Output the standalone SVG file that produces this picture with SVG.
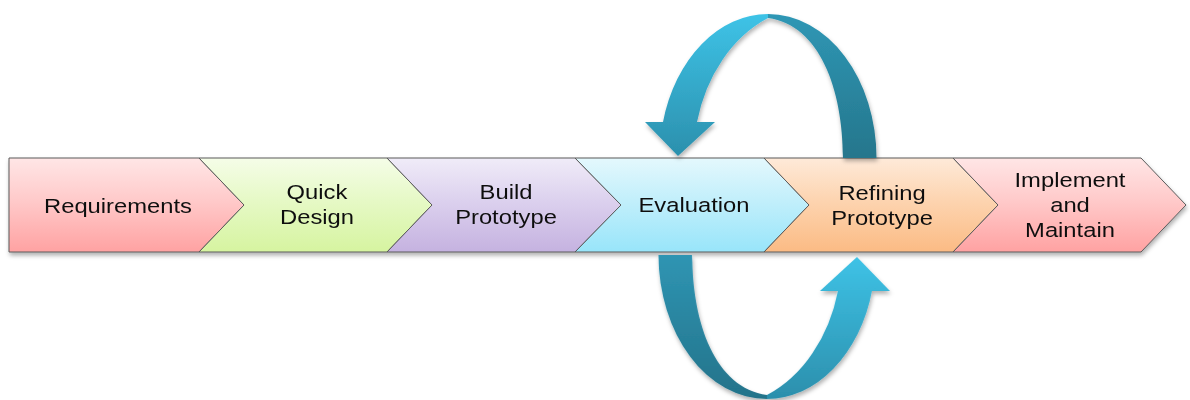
<svg xmlns="http://www.w3.org/2000/svg" width="1190" height="400" viewBox="0 0 1190 400">
  <defs>
    <style>
      .chev { stroke: #5b5b5b; stroke-width: 1; }
      .lbl { font-family: "Liberation Sans", Arial, sans-serif; font-size: 20.5px; fill: #111; text-anchor: middle; }
    </style>
    <linearGradient id="gRed" x1="0" y1="0" x2="0" y2="1">
      <stop offset="0" stop-color="#ffe6e6"/>
      <stop offset="0.45" stop-color="#ffcaca"/>
      <stop offset="1" stop-color="#ffa2a2"/>
    </linearGradient>
    <linearGradient id="gGreen" x1="0" y1="0" x2="0" y2="1">
      <stop offset="0" stop-color="#f5fde8"/>
      <stop offset="0.45" stop-color="#e6f9c6"/>
      <stop offset="1" stop-color="#d6f4a0"/>
    </linearGradient>
    <linearGradient id="gPurple" x1="0" y1="0" x2="0" y2="1">
      <stop offset="0" stop-color="#f0ecf8"/>
      <stop offset="0.45" stop-color="#dcd1ee"/>
      <stop offset="1" stop-color="#c5b2e0"/>
    </linearGradient>
    <linearGradient id="gBlue" x1="0" y1="0" x2="0" y2="1">
      <stop offset="0" stop-color="#e4f8fd"/>
      <stop offset="0.45" stop-color="#c2effb"/>
      <stop offset="1" stop-color="#98e5fa"/>
    </linearGradient>
    <linearGradient id="gOrange" x1="0" y1="0" x2="0" y2="1">
      <stop offset="0" stop-color="#feead9"/>
      <stop offset="0.45" stop-color="#fdd4b0"/>
      <stop offset="1" stop-color="#fbbb84"/>
    </linearGradient>

    <!-- shading of the loop arrows (local coordinates of the upper arrow) -->
    <linearGradient id="aFrontTop" gradientUnits="userSpaceOnUse" x1="0" y1="14" x2="0" y2="158">
      <stop offset="0" stop-color="#3ec3e7"/>
      <stop offset="1" stop-color="#2b8fac"/>
    </linearGradient>
    <linearGradient id="aBackTop" gradientUnits="userSpaceOnUse" x1="0" y1="14" x2="0" y2="158">
      <stop offset="0" stop-color="#2f97b5"/>
      <stop offset="1" stop-color="#25768c"/>
    </linearGradient>
    <linearGradient id="aFrontBot" gradientUnits="userSpaceOnUse" x1="0" y1="157" x2="0" y2="14">
      <stop offset="0" stop-color="#3ec3e7"/>
      <stop offset="1" stop-color="#2c8fac"/>
    </linearGradient>
    <linearGradient id="aBackBot" gradientUnits="userSpaceOnUse" x1="0" y1="158" x2="0" y2="14">
      <stop offset="0" stop-color="#2f95b3"/>
      <stop offset="1" stop-color="#24738a"/>
    </linearGradient>

    <!-- one loop arrow: back face, front face, head -->
    <path id="backFace" d="M768 14 A108.5 144 0 0 1 876.5 158 L843 158 C843 90 820 25 768 18 Z"/>
    <path id="frontFace" d="M663 122 A108.5 144 0 0 1 768 14 L768 18 A123 152 0 0 0 697 122 Z"/>
    <path id="head" d="M645 122 L715 122 L678 156 Z"/>

    <filter id="shadow" x="-10%" y="-20%" width="120%" height="150%">
      <feDropShadow dx="1" dy="3" stdDeviation="2" flood-color="#000" flood-opacity="0.3"/>
    </filter>
  </defs>

  <!-- process band -->
  <g filter="url(#shadow)">
    <g id="requirements">
      <path class="chev" fill="url(#gRed)" d="M9 158 L199 158 L244 205 L199 252 L9 252 Z"/>
      <text class="lbl" transform="translate(118 0) scale(1.16 1)"><tspan x="0" y="213">Requirements</tspan></text>
    </g>
    <g id="quick-design">
      <path class="chev" fill="url(#gGreen)" d="M199 158 L387 158 L432 205 L387 252 L199 252 L244 205 Z"/>
      <text class="lbl" transform="translate(317 0) scale(1.16 1)"><tspan x="0" y="199">Quick</tspan><tspan x="0" y="224">Design</tspan></text>
    </g>
    <g id="build-prototype">
      <path class="chev" fill="url(#gPurple)" d="M387 158 L575 158 L621 205 L575 252 L387 252 L432 205 Z"/>
      <text class="lbl" transform="translate(506 0) scale(1.16 1)"><tspan x="0" y="199">Build</tspan><tspan x="0" y="224">Prototype</tspan></text>
    </g>
    <g id="evaluation">
      <path class="chev" fill="url(#gBlue)" d="M575 158 L764 158 L809 205 L764 252 L575 252 L621 205 Z"/>
      <text class="lbl" transform="translate(694 0) scale(1.16 1)"><tspan x="0" y="212">Evaluation</tspan></text>
    </g>
    <g id="refining-prototype">
      <path class="chev" fill="url(#gOrange)" d="M764 158 L953 158 L998 205 L953 252 L764 252 L809 205 Z"/>
      <text class="lbl" transform="translate(882 0) scale(1.16 1)"><tspan x="0" y="200">Refining</tspan><tspan x="0" y="225">Prototype</tspan></text>
    </g>
    <g id="implement-maintain">
      <path class="chev" fill="url(#gRed)" d="M953 158 L1141 158 L1186 205 L1141 252 L953 252 L998 205 Z"/>
      <text class="lbl" transform="translate(1070 0) scale(1.16 1)"><tspan x="0" y="187">Implement</tspan><tspan x="0" y="212">and</tspan><tspan x="0" y="237">Maintain</tspan></text>
    </g>
  </g>

  <!-- feedback loop arrows -->
  <g id="connectors" filter="url(#shadow)">
    <!-- upper loop: Refining Prototype back to Evaluation -->
    <g id="loop-back">
      <use href="#backFace" fill="url(#aBackTop)"/>
      <use href="#frontFace" fill="url(#aFrontTop)"/>
      <use href="#head" fill="url(#aFrontTop)"/>
    </g>
    <!-- lower loop: Evaluation forward to Refining Prototype (same shape turned half a turn) -->
    <g id="loop-forward" transform="rotate(180 767.5 206.5)">
      <use href="#backFace" fill="url(#aBackBot)"/>
      <use href="#frontFace" fill="url(#aFrontBot)"/>
      <use href="#head" fill="url(#aFrontBot)"/>
    </g>
  </g>
</svg>
